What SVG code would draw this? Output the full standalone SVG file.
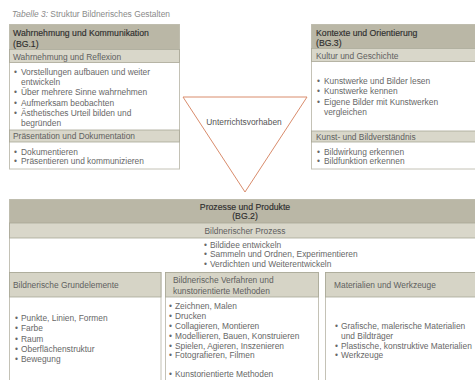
<svg xmlns="http://www.w3.org/2000/svg" width="475" height="380" viewBox="0 0 475 380">
<style>
text{font-family:"Liberation Sans",Arial,sans-serif;font-size:8.4px;fill:#676767}
.title{fill:#8a8a8a}
.h{fill:#2e2e2e;font-size:8.7px;stroke:#2e2e2e;stroke-width:0.15}
.s{fill:#606060}
.box{fill:#fff;stroke:#c4c2b6;stroke-width:1}
.hd{fill:#bab7a6}
.sb{fill:#d9d7ca;stroke:#a9a796;stroke-width:0.8}
.ch{fill:#d6d4c6;stroke:#a9a796;stroke-width:0.8}
.c{text-anchor:middle}
</style>
<rect width="475" height="380" fill="#fff"/>
<text class="title" x="12" y="17"><tspan font-style="italic">Tabelle 3:</tspan> Struktur Bildnerisches Gestalten</text>

<g id="bg1">
<rect class="box" x="9.5" y="24.5" width="170" height="144.5"/>
<rect class="hd" x="9.5" y="24.5" width="170" height="25"/>
<text class="h" x="13" y="36">Wahrnehmung und Kommunikation</text>
<text class="h" x="13" y="46.5">(BG.1)</text>
<rect class="sb" x="9.5" y="49.5" width="170" height="13"/>
<text class="s" x="13" y="59.5">Wahrnehmung und Reflexion</text>
<text><tspan x="14" y="75">•</tspan><tspan x="21" y="75">Vorstellungen aufbauen und weiter</tspan><tspan x="21" y="84.5">entwickeln</tspan><tspan x="14" y="94.5">•</tspan><tspan x="21" y="94.5">Über mehrere Sinne wahrnehmen</tspan><tspan x="14" y="105.5">•</tspan><tspan x="21" y="105.5">Aufmerksam beobachten</tspan><tspan x="14" y="115.5">•</tspan><tspan x="21" y="115.5">Ästhetisches Urteil bilden und</tspan><tspan x="21" y="125.5">begründen</tspan></text>
<rect class="sb" x="9.5" y="130" width="170" height="12"/>
<text class="s" x="13" y="139">Präsentation und Dokumentation</text>
<text><tspan x="14" y="154.5">•</tspan><tspan x="21" y="154.5">Dokumentieren</tspan><tspan x="14" y="164">•</tspan><tspan x="21" y="164">Präsentieren und kommunizieren</tspan></text>
</g>

<g id="bg3">
<rect class="box" x="311.5" y="24.5" width="170" height="144.5"/>
<rect class="hd" x="311.5" y="24.5" width="170" height="24"/>
<text class="h" x="316" y="36">Kontexte und Orientierung</text>
<text class="h" x="316" y="46">(BG.3)</text>
<rect class="sb" x="311.5" y="48.5" width="170" height="13"/>
<text class="s" x="316" y="58.5">Kultur und Geschichte</text>
<text><tspan x="317" y="84">•</tspan><tspan x="324" y="84">Kunstwerke und Bilder lesen</tspan><tspan x="317" y="94">•</tspan><tspan x="324" y="94">Kunstwerke kennen</tspan><tspan x="317" y="105">•</tspan><tspan x="324" y="105">Eigene Bilder mit Kunstwerken</tspan><tspan x="324" y="115">vergleichen</tspan></text>
<rect class="sb" x="311.5" y="131" width="170" height="11"/>
<text class="s" x="316" y="139.5">Kunst- und Bildverständnis</text>
<text><tspan x="317" y="154.5">•</tspan><tspan x="324" y="154.5">Bildwirkung erkennen</tspan><tspan x="317" y="164">•</tspan><tspan x="324" y="164">Bildfunktion erkennen</tspan></text>
</g>

<g id="triangle">
<polygon points="183,97 307,97 245,192" fill="none" stroke="#d98c6c" stroke-width="1"/>
<text class="c" x="244" y="125" style="fill:#555">Unterrichtsvorhaben</text>
</g>

<g id="bg2">
<rect class="box" x="9.5" y="199.5" width="475" height="190"/>
<rect class="hd" x="9.5" y="199.5" width="475" height="23.5"/>
<text class="h c" x="245" y="209.5">Prozesse und Produkte</text>
<text class="h c" x="245" y="218.5">(BG.2)</text>
<rect class="sb" x="9.5" y="223" width="475" height="15"/>
<text class="s c" x="245" y="233.5">Bildnerischer Prozess</text>
<text><tspan x="204" y="247.5">•</tspan><tspan x="210" y="247.5">Bildidee entwickeln</tspan><tspan x="204" y="257">•</tspan><tspan x="210" y="257">Sammeln und Ordnen, Experimentieren</tspan><tspan x="204" y="266.5">•</tspan><tspan x="210" y="266.5">Verdichten und Weiterentwickeln</tspan></text>
</g>

<g id="col1">
<rect class="box" x="9.5" y="272.5" width="151.5" height="120"/>
<rect class="ch" x="9.5" y="272.5" width="151.5" height="24.5"/>
<text class="s" x="13" y="288">Bildnerische Grundelemente</text>
<text><tspan x="15" y="321">•</tspan><tspan x="21" y="321">Punkte, Linien, Formen</tspan><tspan x="15" y="331.3">•</tspan><tspan x="21" y="331.3">Farbe</tspan><tspan x="15" y="341.6">•</tspan><tspan x="21" y="341.6">Raum</tspan><tspan x="15" y="351.9">•</tspan><tspan x="21" y="351.9">Oberflächenstruktur</tspan><tspan x="15" y="362.2">•</tspan><tspan x="21" y="362.2">Bewegung</tspan></text>
</g>

<g id="col2">
<rect class="box" x="165.5" y="272.5" width="153" height="120"/>
<rect class="ch" x="165.5" y="272.5" width="153" height="24.5"/>
<text class="s" x="173" y="283">Bildnerische Verfahren und</text>
<text class="s" x="173" y="293.5">kunstorientierte Methoden</text>
<text><tspan x="169" y="309">•</tspan><tspan x="175" y="309">Zeichnen, Malen</tspan><tspan x="169" y="318.5">•</tspan><tspan x="175" y="318.5">Drucken</tspan><tspan x="169" y="328.5">•</tspan><tspan x="175" y="328.5">Collagieren, Montieren</tspan><tspan x="169" y="338.5">•</tspan><tspan x="175" y="338.5">Modellieren, Bauen, Konstruieren</tspan><tspan x="169" y="348.5">•</tspan><tspan x="175" y="348.5">Spielen, Agieren, Inszenieren</tspan><tspan x="169" y="358">•</tspan><tspan x="175" y="358">Fotografieren, Filmen</tspan><tspan x="169" y="377">•</tspan><tspan x="175" y="377">Kunstorientierte Methoden</tspan></text>
</g>

<g id="col3">
<rect class="box" x="325.5" y="272.5" width="160" height="120"/>
<rect class="ch" x="325.5" y="272.5" width="160" height="24.5"/>
<text class="s" x="334" y="288">Materialien und Werkzeuge</text>
<text><tspan x="335" y="329">•</tspan><tspan x="341" y="329">Grafische, malerische Materialien</tspan><tspan x="341" y="339">und Bildträger</tspan><tspan x="335" y="348.5">•</tspan><tspan x="341" y="348.5">Plastische, konstruktive Materialien</tspan><tspan x="335" y="358">•</tspan><tspan x="341" y="358">Werkzeuge</tspan></text>
</g>
</svg>
